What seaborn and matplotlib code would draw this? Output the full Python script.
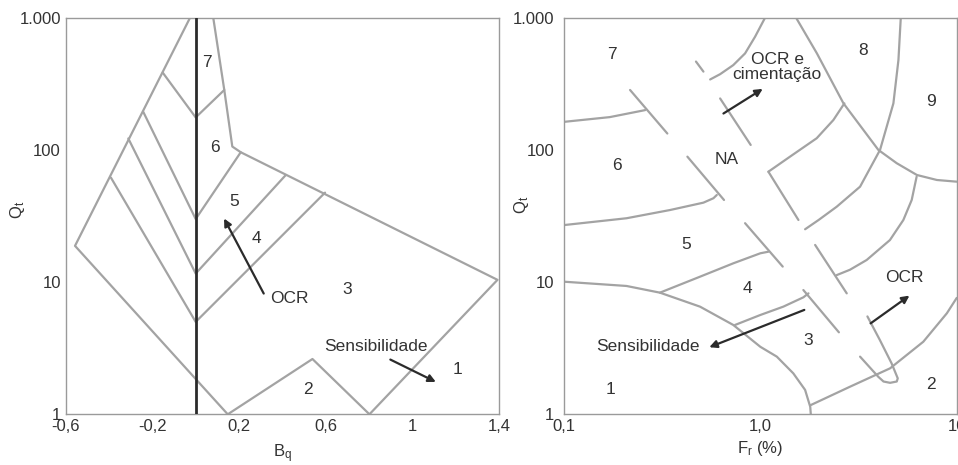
import numpy as np
import pandas as pd
import matplotlib
matplotlib.use("Agg")
import matplotlib.pyplot as plt
import seaborn as sns
from matplotlib.ticker import FixedLocator, NullLocator, LogLocator

sns.set_theme(style="white")
plt.rcParams['font.family'] = ['Liberation Sans', 'DejaVu Sans']
plt.rcParams['mathtext.fontset'] = 'custom'
plt.rcParams['mathtext.rm'] = 'Liberation Sans'
plt.rcParams['mathtext.it'] = 'Liberation Sans'

GRAY = "#a3a3a3"
DARK = "#2b2b2b"
TXT = "#333333"
FS = 12.5
TFS = 12

# ---------------- Left chart (Bq - Qt) ----------------
outer_B = [-0.026, -0.557, 0.0, 0.148, 0.539, 0.802, 1.393, 0.208, 0.169, 0.132, 0.081]
outer_Q = [1000, 18.8, 1.85, 1.0, 2.62, 1.0, 10.4, 96, 106, 284, 1000]
z76_B = [-0.152, 0.0, 0.132]
z76_Q = [384, 176, 284]
z65_B = [-0.242, 0.0, 0.208]
z65_Q = [194, 30, 96]
z54_B = [-0.311, 0.0, 0.416]
z54_Q = [122, 11.6, 64.6]
z43_B = [-0.391, 0.0, 0.597]
z43_Q = [61.6, 5.0, 47.5]
left_zone_labels = ["7", "6", "5", "4", "3", "2", "1"]
left_zone_B = [0.054, 0.089, 0.178, 0.279, 0.697, 0.52, 1.21]
left_zone_Q = [460, 104, 41, 21.3, 8.8, 1.53, 2.2]
left_xticks = [-0.6, -0.2, 0.2, 0.6, 1.0, 1.4]
left_xticklabels = ["-0,6", "-0,2", "0,2", "0,6", "1", "1,4"]
yticks = [1, 10, 100, 1000]
yticklabels = ["1", "10", "100", "1.000"]

# ---------------- Right chart (Fr - Qt) ----------------
c1_F = [0.1, 0.208, 0.308, 0.493, 0.728, 1.0, 1.213, 1.472, 1.69, 1.795, 1.807]
c1_Q = [10.07, 9.35, 8.32, 6.52, 4.74, 3.24, 2.73, 2.04, 1.53, 1.14, 1.0]
c54_F = [0.308, 0.493, 0.728, 1.0, 1.099]
c54_Q = [8.32, 10.99, 13.87, 16.52, 16.98]
c65_F = [0.1, 0.208, 0.347, 0.513, 0.577, 0.60]
c65_Q = [27.0, 30.4, 35.1, 39.9, 43.1, 45.6]
c76_F = [0.1, 0.171, 0.259]
c76_Q = [163, 177, 200]
c8a_F = [0.555, 0.624, 0.728, 0.836, 0.94, 1.057]
c8a_Q = [341, 374, 438, 537, 718, 1000]
c89_F = [1.52, 1.94, 2.65, 3.99, 4.95, 6.27, 7.93, 10.0]
c89_Q = [1000, 538, 225, 100, 79.3, 64.6, 59.2, 57.5]
c9l_F = [5.19, 5.05, 4.76, 4.07, 3.22, 2.45, 1.98, 1.69]
c9l_Q = [1000, 479, 225, 100, 52.7, 37.2, 29.5, 25.1]
c8b_F = [1.099, 1.416, 1.936, 2.355, 2.679]
c8b_Q = [68.4, 88.9, 122.5, 168.3, 224.9]
c9a_F = [6.25, 5.90, 5.35, 4.57, 3.48, 2.86, 2.45]
c9a_Q = [62.7, 41.8, 29.5, 20.8, 14.7, 12.4, 11.3]
c43_F = [0.743, 1.0, 1.309, 1.656, 1.758]
c43_Q = [4.74, 5.64, 6.52, 7.67, 8.22]
c32_F = [1.807, 2.864, 4.58, 6.76, 8.91, 10.0]
c32_Q = [1.175, 1.618, 2.228, 3.54, 5.81, 7.59]
loop_F = [3.22, 3.99, 4.24, 4.58, 4.95, 5.01, 4.66, 4.06, 3.51]
loop_Q = [2.73, 1.92, 1.77, 1.73, 1.77, 1.87, 2.43, 3.65, 5.50]
tick_F1 = [0.217, 0.470, 0.624, 0.425, 1.099, 0.836, 1.901, 1.656]
tick_Q1 = [284, 466, 245, 88.9, 68.4, 27.9, 19.1, 8.71]
tick_F2 = [0.336, 0.513, 0.893, 0.653, 1.563, 1.300, 2.754, 2.512]
tick_Q2 = [133, 391, 109, 41.8, 29.5, 13.1, 8.22, 4.17]
right_zone_labels = ["7", "6", "5", "4", "3", "2", "1", "8", "9", "NA"]
right_zone_F = [0.175, 0.185, 0.417, 0.859, 1.754, 7.38, 0.173, 3.35, 7.38, 0.675]
right_zone_Q = [531, 76, 19.3, 8.97, 3.61, 1.67, 1.53, 569, 231, 84.7]
right_xticks = [0.1, 1.0, 10.0]
right_xticklabels = ["0,1", "1,0", "10"]

W, H = 958, 465
fig = plt.figure(figsize=(W / 100, H / 100), dpi=100)
axL = fig.add_axes([65.7 / W, 1 - 414.3 / H, (499 - 65.7) / W, (414.3 - 17.7) / H])
axR = fig.add_axes([564 / W, 1 - 414.3 / H, (956.7 - 564) / W, (414.3 - 17.7) / H])


def line(ax, x, y, color=GRAY, lw=1.6, z=2):
    df = pd.DataFrame({"x": x, "y": y})
    sns.lineplot(data=df, x="x", y="y", ax=ax, sort=False, estimator=None,
                 color=color, linewidth=lw, zorder=z, legend=False)


def arrow(ax, start, end):
    ax.annotate("", xy=end, xytext=start,
                arrowprops=dict(arrowstyle="-|>", color=DARK, lw=1.6, mutation_scale=11))


for ax in (axL, axR):
    ax.set_yscale("log")
    ax.set_ylim(1, 1000)
    for s in ax.spines.values():
        s.set_color("#9a9a9a")
        s.set_linewidth(1.0)

# Left
axL.set_xlim(-0.6, 1.4)
for xs, ys in [(outer_B, outer_Q), (z76_B, z76_Q), (z65_B, z65_Q), (z54_B, z54_Q), (z43_B, z43_Q)]:
    line(axL, xs, ys)
line(axL, [0, 0], [1, 1000], color=DARK, lw=2.0, z=3)
for t, b, q in zip(left_zone_labels, left_zone_B, left_zone_Q):
    axL.text(b, q, t, ha="center", va="center", fontsize=FS, color=TXT)
axL.text(0.434, 7.5, "OCR", ha="center", va="center", fontsize=FS, color=TXT)
arrow(axL, (0.320, 7.85), (0.125, 31.6))
axL.text(0.831, 3.25, "Sensibilidade", ha="center", va="center", fontsize=FS, color=TXT)
arrow(axL, (0.887, 2.65), (1.12, 1.72))
axL.set_xticks(left_xticks)
axL.set_xticklabels(left_xticklabels)
axL.set_yticks(yticks)
axL.set_yticklabels(yticklabels)
axL.yaxis.set_minor_locator(LogLocator(base=10, subs=np.arange(2, 10)))
axL.tick_params(axis="both", which="both", direction="in", color="#9a9a9a",
                labelsize=TFS, labelcolor=TXT)
axL.tick_params(axis="both", which="major", length=4, width=0.8)
axL.tick_params(axis="y", which="minor", length=3, width=0.8)
axL.set_xlabel(r"B$_\mathregular{q}$", fontsize=TFS, color=TXT, va="center")
axL.set_ylabel(r"Q$_\mathregular{t}$", fontsize=TFS, color=TXT, va="center")
axL.xaxis.set_label_coords(0.5, -0.1)
axL.yaxis.set_label_coords(-0.112, 0.515)

# Right
axR.set_xscale("log")
axR.set_xlim(0.1, 10)
curves = [(c1_F, c1_Q), (c54_F, c54_Q), (c65_F, c65_Q), (c76_F, c76_Q), (c8a_F, c8a_Q),
          (c89_F, c89_Q), (c9l_F, c9l_Q), (c8b_F, c8b_Q), (c9a_F, c9a_Q), (c43_F, c43_Q),
          (c32_F, c32_Q), (loop_F, loop_Q)]
for xs, ys in curves:
    line(axR, xs, ys)
for f1, q1, f2, q2 in zip(tick_F1, tick_Q1, tick_F2, tick_Q2):
    line(axR, [f1, f2], [q1, q2])
for t, f, q in zip(right_zone_labels, right_zone_F, right_zone_Q):
    axR.text(f, q, t, ha="center", va="center", fontsize=FS, color=TXT)
axR.text(1.22, 421, "OCR e\ncimentação", ha="center", va="center", fontsize=FS,
         color=TXT, linespacing=1.0)
arrow(axR, (0.631, 183.7), (1.057, 297))
axR.text(5.40, 10.9, "OCR", ha="center", va="center", fontsize=FS, color=TXT)
arrow(axR, (3.55, 4.74), (5.90, 8.13))
axR.text(0.269, 3.25, "Sensibilidade", ha="center", va="center", fontsize=FS, color=TXT)
arrow(axR, (1.726, 6.27), (0.533, 3.16))
axR.xaxis.set_major_locator(FixedLocator(right_xticks))
axR.set_xticklabels(right_xticklabels)
axR.xaxis.set_minor_locator(NullLocator())
axR.yaxis.set_major_locator(FixedLocator(yticks))
axR.set_yticklabels(yticklabels)
axR.yaxis.set_minor_locator(NullLocator())
axR.tick_params(axis="x", which="major", direction="in", length=4, width=0.8,
                color="#9a9a9a", labelsize=TFS, labelcolor=TXT)
axR.tick_params(axis="y", which="major", direction="out", length=5, width=0.8,
                color="#9a9a9a", labelsize=TFS, labelcolor=TXT, pad=2)
axR.set_xlabel(r"F$_\mathregular{r}$ (%)", fontsize=TFS, color=TXT, va="center")
axR.set_ylabel(r"Q$_\mathregular{t}$", fontsize=TFS, color=TXT, va="center")
axR.xaxis.set_label_coords(0.5, -0.085)
axR.yaxis.set_label_coords(-0.107, 0.528)

fig.savefig("out.png", dpi=100)
